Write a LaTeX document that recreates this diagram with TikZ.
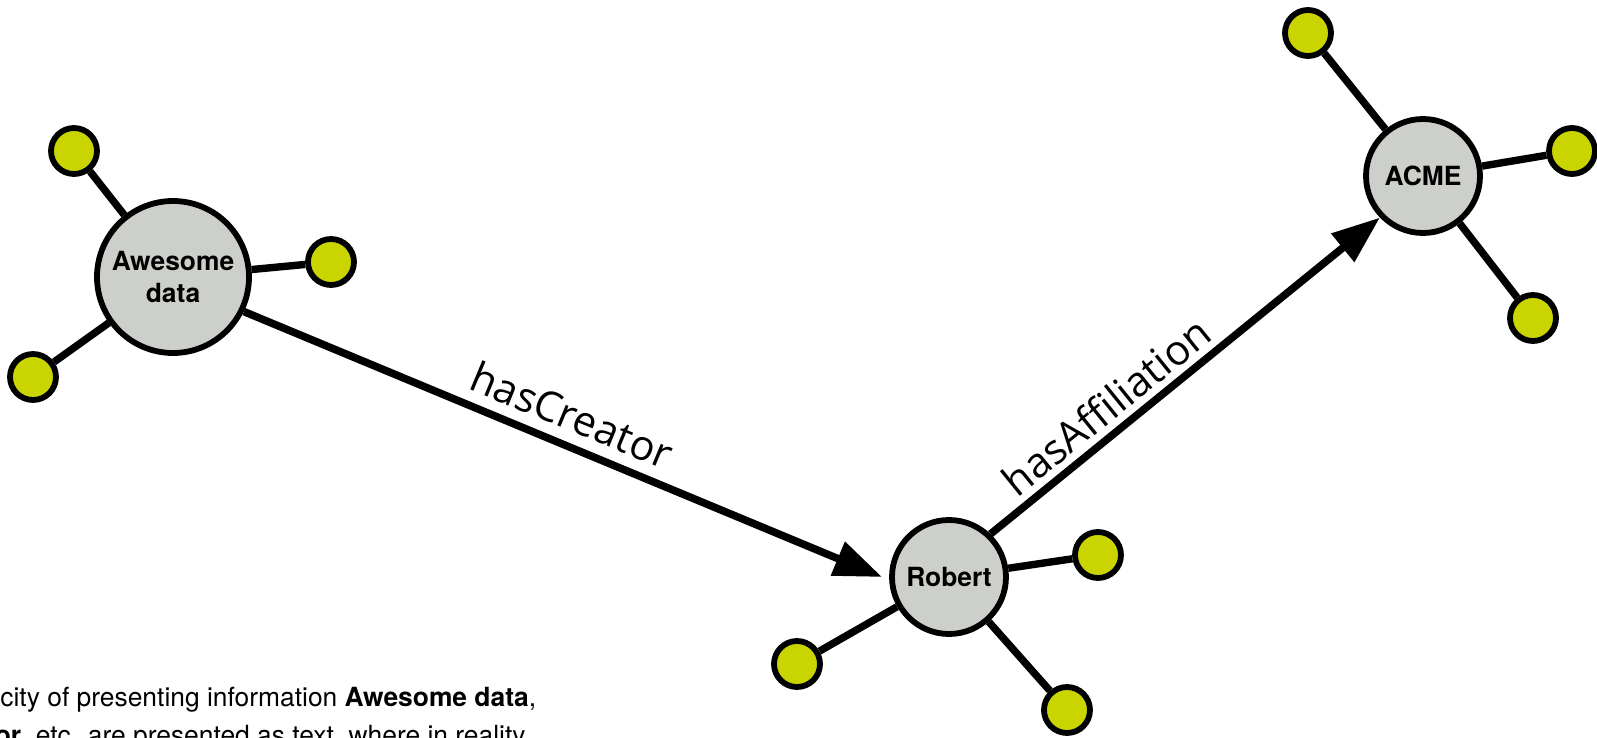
\documentclass[tikz,border=0pt]{standalone}
\usepackage{fontspec}
\setmainfont{TeX Gyre Heros}
\newfontfamily\labelfont{Open Sans}
\usetikzlibrary{arrows.meta}
\definecolor{hubgray}{HTML}{CDD0CA}
\definecolor{leafgreen}{HTML}{C9D400}
\begin{document}
\begin{tikzpicture}[x=0.5pt,y=-0.5pt,
  hub/.style={circle, draw=black, line width=2.9pt, fill=hubgray, inner sep=0pt,
    font=\fontsize{13.2}{16}\selectfont\bfseries, align=center},
  bighub/.style={hub, minimum size=76pt},
  smallhub/.style={hub, minimum size=57pt},
  leaf/.style={circle, draw=black, line width=2.9pt, fill=leafgreen, inner sep=0pt, minimum size=23pt},
  spoke/.style={line width=3.7pt},
  rel/.style={line width=3.8pt, -{Triangle[length=24pt,width=17.5pt]}},
  rellabel/.style={font=\labelfont\fontsize{20.8}{24}\selectfont, inner sep=0pt},
  caption/.style={font=\fontsize{13.2}{16}\selectfont, inner sep=0pt}
]
\useasboundingbox (0,0) rectangle (1597,738);
\clip (0,0) rectangle (1597,738);

% hubs
\node[bighub] (aw) at (173,277) {Awesome\\data};
\node[smallhub] (rob) at (949,577) {Robert};
\node[smallhub] (acme) at (1423,176) {ACME};

% leaves
\node[leaf] (aw1) at (74,151) {};
\node[leaf] (aw2) at (331,262) {};
\node[leaf] (aw3) at (33,377) {};
\node[leaf] (r1) at (1098,555) {};
\node[leaf] (r2) at (797,664) {};
\node[leaf] (r3) at (1067,710) {};
\node[leaf] (a1) at (1308,33) {};
\node[leaf] (a2) at (1572,151) {};
\node[leaf] (a3) at (1533,318) {};

% spokes
\draw[spoke] (aw) -- (aw1);
\draw[spoke] (aw) -- (aw2);
\draw[spoke] (aw) -- (aw3);
\draw[spoke] (rob) -- (r1);
\draw[spoke] (rob) -- (r2);
\draw[spoke] (rob) -- (r3);
\draw[spoke] (acme) -- (a1);
\draw[spoke] (acme) -- (a2);
\draw[spoke] (acme) -- (a3);

% relations
\draw[rel] (aw.-26) -- ([xshift=-3.5pt]rob.west);
\draw[rel] (rob.46) -- (acme.224);

\node[rellabel, rotate=-22.5] (lc) at (572,415) {hasCreator};
\node[rellabel, rotate=39] (la) at (1106,406) {hasAffiliation};

% caption
\node[caption, anchor=base west] (cap1) at (0,706) {city of presenting information \textbf{Awesome data},};
\node[caption, anchor=base east] (cap2) at (526,744) {\textbf{or}, etc. are presented as text, where in reality};
\end{tikzpicture}
\end{document}
